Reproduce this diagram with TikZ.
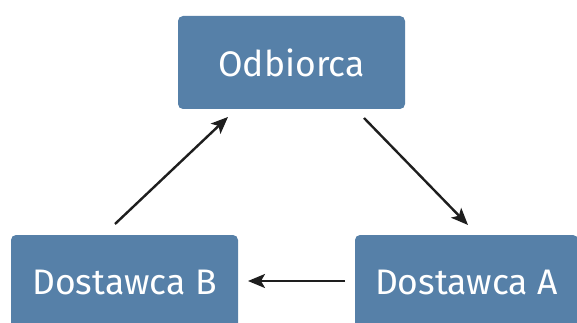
\documentclass[tikz,border=0pt]{standalone}
\usepackage{fontspec}
\setmainfont{Fira Sans}
\usetikzlibrary{arrows.meta}
\definecolor{boxblue}{HTML}{5680A8}
\definecolor{arrowgray}{HTML}{1E1E1E}
\begin{document}
\begin{tikzpicture}[x=1pt,y=-1pt,
  box/.style={fill=boxblue,rounded corners=5pt,text=white,inner sep=0pt,
    font=\fontsize{35.5}{40}\selectfont},
  conn/.style={draw=arrowgray,line width=2.4pt,-{Stealth[length=17pt,width=14pt,inset=4pt]}}]
\useasboundingbox (0,0) rectangle (577,323);
\node[box,minimum width=227pt,minimum height=93pt] (O) at (291.5,62.5) {Odbiorca};
\node[box,minimum width=227pt,minimum height=94pt] (B) at (124.5,282) {Dostawca B};
\node[box,minimum width=223pt,minimum height=94pt] (A) at (466.5,282) {Dostawca A};
\coordinate (b1) at (115,224);
\coordinate (o1) at (228,117);
\coordinate (o2) at (364,118);
\coordinate (a1) at (468,225);
\coordinate (a2) at (345,281);
\coordinate (b2) at (248,281);
\draw[conn] (b1) -- (o1);
\draw[conn] (o2) -- (a1);
\draw[conn] (a2) -- (b2);
\end{tikzpicture}
\end{document}
